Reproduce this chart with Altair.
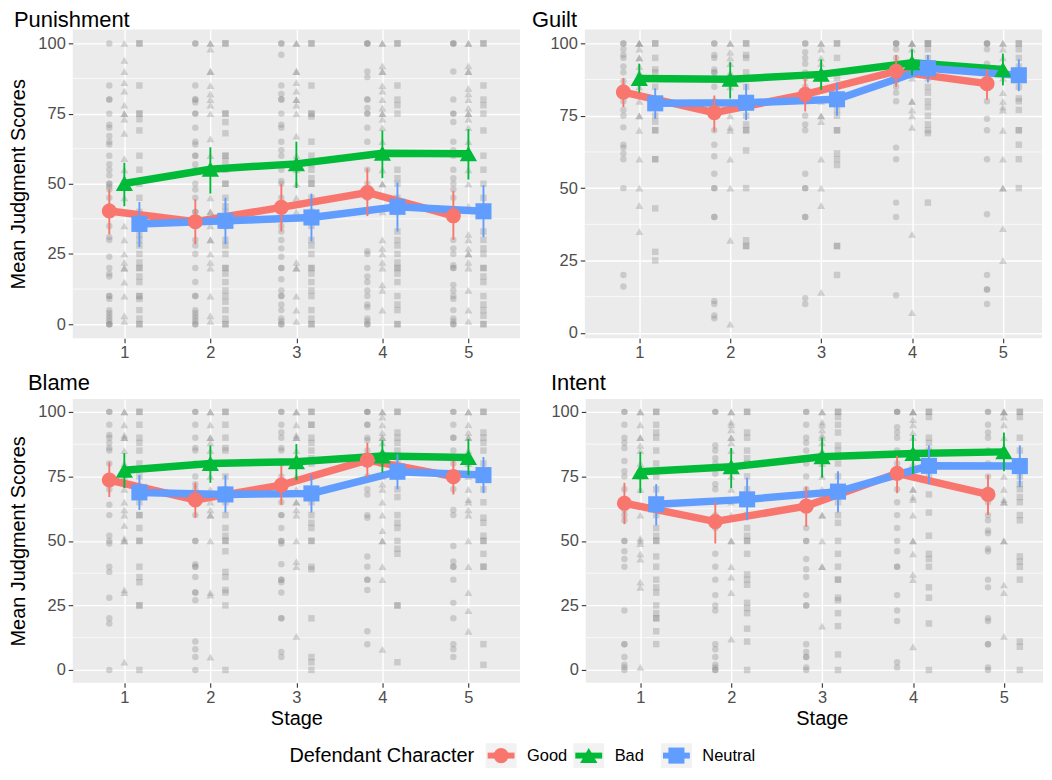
import altair as alt
import pandas as pd

FONT = "Liberation Sans"
STAGES = [1, 2, 3, 4, 5]
GROUPS = ["Good", "Bad", "Neutral"]
COLORS = ["#F8766D", "#00BA38", "#619CFF"]
DODGE = [-0.175, 0.0, 0.175]
MEASURES = ["Punishment", "Guilt", "Blame", "Intent"]
Y_TICKS = [0, 25, 50, 75, 100]
Y_MINOR = [12.5, 37.5, 62.5, 87.5]
LEGEND_TITLE = ["Defendant Character"]

# ---------------- raw individual scores (per stage 1..5) ----------------
PUNISHMENT_GOOD_RAW = [
    [100, 85, 80, 80, 75, 71, 70, 67, 65, 64, 60, 57, 55, 53, 50, 50, 49, 48, 45, 42, 40, 35, 31, 30, 24, 20, 18, 17, 10, 10, 9, 5, 4, 3, 2, 1, 0, 0, 0],
    [100, 100, 85, 80, 80, 79, 75, 75, 70, 65, 64, 60, 60, 57, 55, 50, 48, 45, 40, 40, 37, 35, 30, 28, 25, 20, 15, 10, 10, 5, 4, 3, 2, 1, 0, 0],
    [100, 100, 96, 85, 82, 80, 80, 75, 71, 70, 65, 62, 60, 55, 51, 50, 45, 40, 35, 33, 30, 27, 24, 20, 20, 16, 12, 10, 10, 7, 5, 2, 1, 0, 0],
    [100, 100, 100, 90, 88, 80, 80, 77, 75, 75, 70, 65, 60, 55, 50, 48, 45, 40, 26, 25, 20, 17, 15, 12, 10, 7, 6, 2, 1, 0, 0],
    [100, 100, 100, 90, 80, 75, 75, 72, 65, 62, 60, 55, 52, 50, 48, 45, 40, 30, 27, 25, 21, 20, 20, 14, 12, 10, 9, 5, 2, 1, 0, 0],
]
PUNISHMENT_BAD_RAW = [
    [100, 94, 90, 86, 83, 78, 75, 75, 73, 68, 59, 55, 52, 50, 45, 40, 35, 30, 25, 22, 20, 20, 15, 10, 3, 1],
    [100, 100, 98, 90, 90, 85, 82, 80, 78, 75, 66, 60, 55, 45, 40, 40, 35, 30, 30, 25, 22, 20, 10, 3, 1],
    [100, 100, 90, 90, 86, 83, 80, 80, 78, 75, 67, 60, 55, 50, 45, 40, 22, 20, 20, 10, 5, 1],
    [100, 100, 92, 90, 90, 85, 83, 80, 77, 75, 75, 73, 70, 65, 60, 55, 50, 50, 40, 30, 27, 25, 22, 20, 14, 12, 5],
    [100, 100, 92, 90, 90, 84, 82, 80, 77, 75, 75, 73, 70, 65, 60, 55, 50, 42, 32, 30, 27, 25, 25, 22, 20, 12, 5, 1],
]
PUNISHMENT_NEUTRAL_RAW = [
    [100, 100, 85, 75, 75, 73, 69, 60, 55, 50, 45, 40, 35, 32, 30, 28, 25, 22, 20, 20, 17, 15, 10, 10, 9, 5, 2, 0, 0],
    [100, 100, 75, 75, 72, 68, 60, 60, 58, 55, 50, 50, 45, 42, 40, 35, 30, 28, 25, 20, 20, 18, 15, 12, 10, 8, 5, 2, 0, 0],
    [100, 100, 85, 75, 75, 74, 65, 60, 57, 55, 52, 50, 50, 45, 40, 35, 30, 28, 25, 20, 20, 18, 15, 12, 10, 5, 2, 0, 0],
    [100, 100, 85, 80, 78, 75, 55, 52, 50, 45, 40, 33, 30, 28, 25, 22, 20, 20, 18, 15, 10, 7, 5, 0, 0],
    [100, 100, 85, 80, 78, 75, 69, 60, 55, 50, 45, 40, 33, 30, 27, 25, 20, 20, 17, 15, 10, 7, 5, 3, 0, 0],
]

GUILT_GOOD_RAW = [
    [100, 100, 98, 96, 95, 92, 90, 87, 85, 80, 77, 75, 71, 65, 64, 62, 60, 50, 20, 16],
    [100, 100, 96, 95, 91, 90, 90, 88, 85, 80, 78, 75, 70, 65, 61, 55, 50, 50, 40, 40, 11, 10, 6, 5],
    [100, 100, 97, 95, 93, 90, 88, 85, 80, 75, 72, 70, 55, 50, 50, 40, 40, 12, 10],
    [100, 100, 100, 98, 95, 90, 87, 85, 83, 80, 64, 60, 45, 40, 13],
    [100, 100, 100, 98, 93, 90, 85, 80, 74, 70, 60, 41, 20, 15, 15, 10],
]
GUILT_BAD_RAW = [
    [100, 100, 100, 98, 95, 95, 92, 90, 88, 85, 80, 75, 75, 70, 60, 50, 44, 35],
    [100, 100, 97, 95, 93, 90, 88, 85, 80, 75, 71, 70, 60, 50, 32, 3],
    [100, 100, 98, 95, 93, 90, 88, 85, 80, 75, 75, 73, 60, 50, 44, 14],
    [100, 100, 100, 98, 95, 92, 90, 88, 80, 80, 77, 75, 71, 34, 7],
    [100, 100, 98, 95, 92, 90, 88, 83, 80, 78, 77, 70, 60, 50, 50, 36, 25],
]
GUILT_NEUTRAL_RAW = [
    [100, 100, 95, 91, 90, 85, 80, 78, 75, 73, 70, 70, 60, 60, 43, 28, 25],
    [100, 100, 96, 95, 90, 88, 85, 80, 75, 72, 70, 70, 63, 50, 32, 30, 30],
    [100, 100, 95, 90, 88, 85, 80, 77, 75, 70, 70, 62, 60, 58, 30, 30, 20],
    [100, 100, 100, 98, 95, 92, 90, 88, 85, 83, 80, 78, 75, 72, 70, 69, 45],
    [100, 100, 98, 95, 92, 90, 88, 85, 81, 80, 77, 70, 70, 65, 60, 50],
]

BLAME_GOOD_RAW = [
    [100, 100, 95, 91, 90, 88, 86, 85, 80, 75, 72, 70, 64, 60, 52, 50, 49, 40, 38, 28, 20, 18, 0],
    [100, 100, 95, 90, 86, 85, 80, 75, 72, 70, 65, 60, 50, 50, 41, 40, 40, 36, 30, 30, 27, 11, 8, 5, 0],
    [100, 100, 95, 92, 90, 86, 85, 80, 75, 70, 65, 60, 60, 55, 50, 50, 49, 41, 35, 35, 34, 30, 20, 20, 7, 5],
    [100, 100, 100, 95, 95, 90, 89, 85, 80, 75, 70, 68, 60, 59, 44, 40, 35, 35, 31, 15, 10],
    [100, 100, 95, 90, 90, 85, 82, 80, 75, 70, 62, 60, 48, 42, 40, 40, 35, 26, 20, 10, 8, 5],
]
BLAME_BAD_RAW = [
    [100, 100, 95, 91, 90, 90, 85, 80, 77, 75, 70, 65, 62, 60, 56, 51, 50, 50, 31, 30, 3],
    [100, 100, 95, 90, 90, 88, 85, 80, 75, 70, 65, 62, 60, 60, 50, 30, 29, 5],
    [100, 100, 95, 91, 90, 90, 85, 80, 75, 70, 65, 65, 62, 60, 50, 42, 40, 13],
    [100, 100, 98, 95, 92, 90, 90, 88, 85, 80, 75, 72, 70, 65, 60, 54, 50, 50, 40, 35, 8],
    [100, 100, 95, 92, 90, 90, 85, 80, 75, 70, 66, 65, 62, 60, 50, 40, 30, 23, 15],
]
BLAME_NEUTRAL_RAW = [
    [100, 100, 95, 90, 88, 85, 80, 75, 70, 65, 60, 60, 55, 50, 50, 40, 36, 34, 25, 25, 0],
    [100, 100, 95, 90, 86, 85, 80, 75, 70, 65, 60, 55, 52, 50, 50, 46, 38, 36, 31, 30, 25, 0],
    [100, 100, 95, 95, 90, 88, 85, 82, 80, 75, 70, 65, 60, 57, 55, 50, 50, 40, 39, 20, 5, 3, 0],
    [100, 100, 92, 90, 88, 85, 80, 75, 70, 67, 60, 57, 55, 50, 47, 45, 25, 25, 3],
    [100, 100, 92, 90, 88, 85, 80, 75, 70, 65, 59, 57, 52, 50, 50, 45, 40, 40, 10, 2],
]

INTENT_GOOD_RAW = [
    [100, 100, 95, 90, 88, 86, 81, 77, 75, 70, 62, 60, 58, 50, 50, 46, 43, 40, 23, 10, 10, 5, 2, 1, 0],
    [100, 100, 87, 85, 82, 80, 76, 72, 70, 65, 60, 58, 55, 45, 40, 35, 29, 25, 23, 10, 8, 5, 2, 1, 0, 0],
    [100, 100, 95, 90, 88, 85, 80, 75, 70, 65, 55, 50, 50, 43, 39, 36, 29, 25, 25, 10, 7, 5, 5, 1, 0],
    [100, 100, 100, 94, 92, 90, 85, 80, 75, 70, 65, 60, 55, 50, 46, 40, 40, 29, 23, 19, 3, 1],
    [100, 100, 95, 92, 90, 85, 80, 75, 70, 65, 60, 58, 54, 53, 47, 46, 35, 32, 20, 19, 10, 10, 1, 0],
]
INTENT_BAD_RAW = [
    [100, 100, 95, 90, 90, 87, 85, 80, 78, 75, 70, 60, 51, 50, 49, 45, 43, 34, 32, 1],
    [100, 100, 96, 95, 93, 90, 90, 88, 85, 80, 75, 70, 65, 60, 50, 50, 40, 36, 30, 12],
    [100, 100, 96, 95, 93, 91, 90, 88, 85, 80, 75, 70, 60, 60, 50, 40, 40, 17],
    [100, 100, 100, 97, 95, 92, 90, 85, 80, 75, 70, 70, 67, 66, 60, 50, 50, 45, 37, 35, 9],
    [100, 100, 100, 98, 95, 90, 85, 80, 75, 70, 66, 65, 65, 50, 50, 33, 30, 13],
]
INTENT_NEUTRAL_RAW = [
    [100, 100, 95, 92, 90, 85, 80, 75, 70, 65, 60, 55, 52, 50, 50, 44, 40, 35, 32, 30, 25, 22, 20, 20, 15, 10],
    [100, 100, 92, 90, 85, 82, 80, 75, 70, 65, 60, 55, 52, 50, 50, 45, 37, 35, 33, 26, 24, 22, 16, 11, 0],
    [100, 100, 98, 95, 92, 87, 85, 80, 75, 70, 65, 60, 57, 50, 45, 40, 35, 35, 28, 27, 22, 17, 6, 0],
    [100, 100, 98, 90, 88, 85, 80, 75, 68, 61, 52, 45, 43, 40, 32, 28, 18, 0],
    [100, 100, 98, 90, 85, 80, 75, 72, 70, 67, 65, 60, 58, 44, 42, 40, 35, 11, 9, 0],
]

# ---------------- means and error-bar limits (rows: Good, Bad, Neutral) ----------------
PUNISHMENT_MEAN = [[40.3, 36.5, 41.6, 46.9, 38.6], [50.1, 55.2, 57.1, 60.9, 60.7], [35.7, 36.8, 38.0, 41.8, 40.2]]
PUNISHMENT_LO = [[32.0, 28.5, 33.0, 38.5, 30.0], [42.0, 46.5, 48.5, 52.0, 51.5], [27.5, 28.5, 29.5, 33.0, 31.0]]
PUNISHMENT_HI = [[48.0, 44.5, 50.0, 55.5, 47.5], [57.5, 63.0, 65.0, 69.0, 69.5], [43.5, 45.0, 46.5, 50.5, 49.5]]

GUILT_MEAN = [[83.2, 76.1, 82.4, 90.4, 86.1], [87.9, 87.6, 89.3, 93.3, 91.0], [79.3, 79.5, 80.7, 91.4, 89.0]]
GUILT_LO = [[78.0, 69.5, 76.5, 85.0, 80.5], [83.0, 81.0, 84.0, 89.0, 85.5], [74.0, 73.5, 75.0, 86.5, 83.5]]
GUILT_HI = [[88.0, 82.0, 88.0, 96.0, 91.0], [93.0, 93.5, 94.5, 98.0, 96.5], [84.5, 86.0, 86.5, 96.0, 94.5]]

BLAME_MEAN = [[73.6, 65.9, 71.6, 81.3, 74.9], [77.4, 80.0, 80.7, 82.9, 82.3], [68.8, 68.0, 68.4, 76.8, 75.5]]
BLAME_LO = [[67.0, 59.0, 64.0, 74.5, 68.0], [70.5, 72.5, 73.5, 76.5, 75.5], [62.0, 61.0, 61.0, 70.0, 68.5]]
BLAME_HI = [[80.5, 72.5, 79.0, 88.0, 81.0], [84.0, 87.0, 87.5, 89.0, 89.5], [75.5, 75.5, 75.5, 83.5, 82.5]]

INTENT_MEAN = [[64.6, 57.5, 63.5, 76.2, 68.0], [76.8, 78.7, 82.6, 83.9, 84.5], [64.2, 66.1, 69.1, 79.1, 79.0]]
INTENT_LO = [[56.5, 49.0, 55.5, 68.5, 60.0], [68.5, 70.5, 74.5, 76.0, 77.0], [56.0, 58.0, 61.0, 72.0, 71.0]]
INTENT_HI = [[72.5, 65.0, 71.0, 83.0, 75.5], [84.5, 86.0, 90.0, 91.0, 92.0], [72.0, 74.5, 77.0, 87.0, 87.0]]

RAW = {
    "Punishment": [PUNISHMENT_GOOD_RAW, PUNISHMENT_BAD_RAW, PUNISHMENT_NEUTRAL_RAW],
    "Guilt": [GUILT_GOOD_RAW, GUILT_BAD_RAW, GUILT_NEUTRAL_RAW],
    "Blame": [BLAME_GOOD_RAW, BLAME_BAD_RAW, BLAME_NEUTRAL_RAW],
    "Intent": [INTENT_GOOD_RAW, INTENT_BAD_RAW, INTENT_NEUTRAL_RAW],
}
MEANS = {
    "Punishment": (PUNISHMENT_MEAN, PUNISHMENT_LO, PUNISHMENT_HI),
    "Guilt": (GUILT_MEAN, GUILT_LO, GUILT_HI),
    "Blame": (BLAME_MEAN, BLAME_LO, BLAME_HI),
    "Intent": (INTENT_MEAN, INTENT_LO, INTENT_HI),
}

raw_rows, mean_rows = [], []
for m in MEASURES:
    mm, ll, hh = MEANS[m]
    for gi, g in enumerate(GROUPS):
        for si, s in enumerate(STAGES):
            for v in RAW[m][gi][si]:
                raw_rows.append({"measure": m, "group": g, "x": s + DODGE[gi], "score": v})
            mean_rows.append({"measure": m, "group": g, "x": s + DODGE[gi],
                              "mean": mm[gi][si], "lo": ll[gi][si], "hi": hh[gi][si]})
raw_df = pd.DataFrame(raw_rows)
mean_df = pd.DataFrame(mean_rows)

SHAPES = ["circle", "triangle-up", "square"]
RAW_SIZES = [42, 62, 42]
MEAN_SIZES = [230, 300, 260]
PANEL_BG = alt.ViewBackground(fill="#ebebeb", strokeWidth=0)
color_scale = alt.Scale(domain=GROUPS, range=COLORS)
cenc = alt.Color("group:N", scale=color_scale, legend=None)


def panel(measure, width, height, x_max, y_title, x_title, title_dx, title_offset,
          x_title_x=None):
    raw = raw_df[raw_df["measure"] == measure]
    mean = mean_df[mean_df["measure"] == measure]
    vals = list(raw["score"]) + list(mean["lo"]) + list(mean["hi"])
    lo, hi = min(vals), max(vals)
    ext = 0.05 * (hi - lo)
    ysc = alt.Scale(domain=[lo - ext, hi + ext], nice=False, zero=False)
    xsc = alt.Scale(domain=[0.4, x_max], nice=False, zero=False)

    common = dict(grid=True, gridColor="white", gridWidth=1.4, domain=False,
                  tickColor="#333333", tickSize=4.5, tickWidth=1.1,
                  labelColor="#4d4d4d", labelFontSize=16.5, labelFont=FONT,
                  titleFontSize=20, titleFont=FONT, titleFontWeight="normal",
                  titleColor="black", labelOverlap=False)
    xkw = dict(common, values=STAGES, format="d", title=x_title, labelPadding=2,
               titlePadding=3, labelFlush=False)
    if x_title_x is not None:
        xkw["titleX"] = x_title_x
    xax = alt.Axis(**xkw)
    yax = alt.Axis(**dict(common, values=Y_TICKS, title=y_title, labelPadding=3,
                          titlePadding=9))

    def X():
        return alt.X("x:Q", scale=xsc, axis=xax)

    layers = [
        alt.Chart(pd.DataFrame({"v": Y_MINOR})).mark_rule(color="white", strokeWidth=0.7)
        .encode(y=alt.Y("v:Q", scale=ysc, axis=yax))
    ]
    for gi, g in enumerate(GROUPS):
        layers.append(
            alt.Chart(raw[raw["group"] == g])
            .mark_point(shape=SHAPES[gi], filled=True, size=RAW_SIZES[gi],
                        color="#8f8f8f", opacity=0.36, strokeWidth=0)
            .encode(x=X(), y=alt.Y("score:Q", scale=ysc, axis=yax))
        )
    for gi, g in enumerate(GROUPS):
        layers.append(
            alt.Chart(mean[mean["group"] == g]).mark_line(strokeWidth=7.5)
            .encode(x=X(), y=alt.Y("mean:Q", scale=ysc, axis=yax), color=cenc)
        )
    for gi, g in enumerate(GROUPS):
        sub = mean[mean["group"] == g]
        layers.append(
            alt.Chart(sub).mark_rule(strokeWidth=1.9)
            .encode(x=X(), y=alt.Y("lo:Q", scale=ysc, axis=yax), y2="hi:Q", color=cenc)
        )
        layers.append(
            alt.Chart(sub).mark_point(shape=SHAPES[gi], filled=True, size=MEAN_SIZES[gi],
                                      opacity=1, strokeWidth=0)
            .encode(x=X(), y=alt.Y("mean:Q", scale=ysc, axis=yax), color=cenc)
        )
    return alt.layer(*layers).properties(
        width=width, height=height, view=PANEL_BG,
        title=alt.TitleParams(text=measure, anchor="start", frame="group", dx=title_dx,
                              offset=title_offset, fontSize=22, font=FONT,
                              fontWeight="normal", color="black"),
    )


p1 = panel("Punishment", 449, 310, 5.6, "Mean Judgment Scores", None, -59, -3)
p2 = panel("Guilt", 459, 310, 5.43, None, None, -53, -3)
p3 = panel("Blame", 449, 285, 5.6, "Mean Judgment Scores", "Stage", -45, 4)
p4 = panel("Intent", 459, 285, 5.43, None, "Stage", -35, 4, x_title_x=237)

# ---------------- legend, drawn from the group table ----------------
# the legend row's origin lines up with the left panels' plot area
LEGEND_WIDTH = 972
LEGEND_X0 = 430
LEGEND_STEP = 88
LY = 16
legend_df = pd.DataFrame({"group": GROUPS})
lx = alt.X("group:N", sort=GROUPS,
           scale=alt.Scale(type="point", domain=GROUPS,
                           range=[LEGEND_X0, LEGEND_X0 + 2 * LEGEND_STEP], padding=0),
           axis=None)


def lchart(df):
    return alt.Chart(df).encode(x=lx, y=alt.value(LY))


legend_layers = [
    lchart(legend_df).mark_point(shape="M-1,-0.8H1V0.8H-1Z", filled=True, size=961,
                                 color="#f2f2f2", opacity=1, strokeWidth=0),
    lchart(legend_df).mark_point(shape="M-1,-0.22H1V0.22H-1Z", filled=True, size=729,
                                 opacity=1, strokeWidth=0).encode(color=cenc),
]
for gi, g in enumerate(GROUPS):
    legend_layers.append(
        lchart(legend_df[legend_df["group"] == g])
        .mark_point(shape=SHAPES[gi], filled=True, size=MEAN_SIZES[gi], opacity=1,
                    strokeWidth=0).encode(color=cenc)
    )
legend_layers.append(
    lchart(legend_df).mark_text(align="left", baseline="middle", dx=26, fontSize=16.5,
                                font=FONT, color="black").encode(text="group:N")
)
legend_layers.append(
    alt.Chart(pd.DataFrame({"t": LEGEND_TITLE}))
    .mark_text(align="right", baseline="middle", fontSize=20, font=FONT, color="black")
    .encode(x=alt.value(LEGEND_X0 - 27), y=alt.value(LY), text="t:N")
)
legend = alt.layer(*legend_layers).properties(
    width=LEGEND_WIDTH, height=27, view=alt.ViewBackground(strokeWidth=0)
)

top = alt.hconcat(p1, p2, spacing=11)
bottom = alt.hconcat(p3, p4, spacing=29)
chart = (
    alt.vconcat(top, bottom, legend, spacing=11)
    .properties(padding={"left": 0, "right": 0, "top": 0, "bottom": 0})
)
chart.save("out.html", embed_options={"renderer": "svg", "actions": False})
